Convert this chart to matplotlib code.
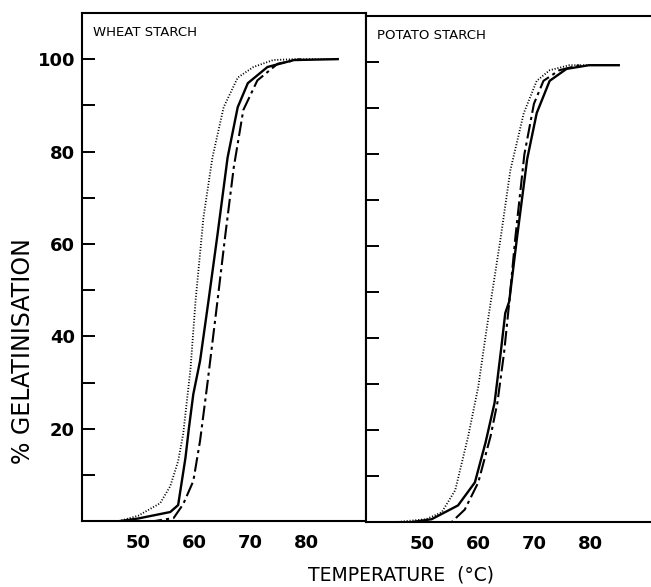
import matplotlib
matplotlib.use("Agg")
import matplotlib.pyplot as plt

plt.rcParams['font.family'] = ['DejaVu Sans']

# ---- data ----
panel_titles = ["WHEAT STARCH", "POTATO STARCH"]
x_ticks = [50, 60, 70, 80]
y_ticks_major = [20, 40, 60, 80, 100]
y_ticks_minor = [10, 30, 50, 70, 90]

wheat_dotted_x = [46.5, 50.0, 53.9, 55.7, 57.1, 58.0, 59.3, 60.2, 61.6, 63.2, 65.2, 67.7, 70.5, 74.0, 78.0, 85.5]
wheat_dotted_y = [0.0, 1.2, 3.9, 7.6, 13.0, 18.9, 33.0, 47.7, 65.7, 78.7, 89.6, 96.0, 98.3, 99.8, 100.0, 100.0]
wheat_solid_x = [46.5, 50.0, 55.7, 57.1, 58.4, 59.0, 59.8, 61.0, 62.5, 64.1, 65.9, 67.7, 69.5, 73.0, 77.7, 85.5]
wheat_solid_y = [0.0, 0.6, 2.0, 3.5, 13.7, 20.0, 27.5, 34.7, 47.7, 62.0, 78.7, 89.6, 94.8, 98.3, 99.8, 100.0]
wheat_dashdot_x = [47.0, 52.7, 56.3, 58.0, 59.8, 61.0, 62.3, 64.1, 65.5, 67.0, 68.7, 71.2, 74.8, 78.9]
wheat_dashdot_y = [0.0, 0.0, 0.7, 3.7, 8.7, 17.4, 29.7, 47.7, 62.0, 76.6, 89.0, 95.4, 99.0, 100.0]

potato_dotted_x = [44.7, 50.7, 53.5, 55.9, 58.2, 60.0, 61.3, 62.2, 64.0, 65.7, 68.1, 70.4, 72.7, 76.2, 85.0]
potato_dotted_y = [0.0, 0.7, 2.2, 7.0, 18.7, 29.5, 40.5, 47.8, 62.0, 76.5, 89.0, 96.0, 98.3, 99.4, 99.4]
potato_solid_x = [47.7, 51.7, 56.4, 59.4, 61.3, 62.9, 64.0, 64.8, 65.5, 66.9, 68.7, 70.4, 72.7, 75.7, 79.7, 85.0]
potato_solid_y = [0.0, 0.7, 3.7, 8.7, 17.4, 26.0, 37.0, 45.5, 48.0, 62.0, 79.0, 89.0, 96.0, 98.6, 99.4, 99.4]
potato_dashdot_x = [51.7, 55.2, 57.6, 60.0, 62.2, 63.4, 64.6, 65.5, 66.6, 68.2, 69.9, 71.6, 74.4, 78.0]
potato_dashdot_y = [0.0, 0.0, 2.8, 8.7, 18.8, 26.0, 37.0, 47.7, 62.0, 80.0, 91.0, 96.0, 98.3, 99.4]

series = [
    [(wheat_dotted_x, wheat_dotted_y, 'dotted'),
     (wheat_solid_x, wheat_solid_y, 'solid'),
     (wheat_dashdot_x, wheat_dashdot_y, 'dashdot')],
    [(potato_dotted_x, potato_dotted_y, 'dotted'),
     (potato_solid_x, potato_solid_y, 'solid'),
     (potato_dashdot_x, potato_dashdot_y, 'dashdot')],
]

fig = plt.figure(figsize=(6.51, 5.87), dpi=100)
ax1 = fig.add_axes([0.126, 0.112, 0.436, 0.866])
ax2 = fig.add_axes([0.562, 0.110, 0.436, 0.862], sharey=ax1)

for i, ax in enumerate([ax1, ax2]):
    for xs, ys, st in series[i]:
        if st == 'dotted':
            ax.plot(xs, ys, color='black', lw=1.3, ls=(0, (0.6, 1.0)))
        elif st == 'solid':
            ax.plot(xs, ys, color='black', lw=1.7, ls='-')
        else:
            ax.plot(xs, ys, color='black', lw=1.5, ls=(0, (7, 2.0, 1.5, 2.0)))
    ax.set_xlim(40, 90.5)
    ax.set_ylim(0, 110)
    ax.set_xticks(x_ticks)
    ax.set_xticklabels([str(v) for v in x_ticks], fontsize=13, fontweight='bold')
    ax.tick_params(axis='x', length=0, pad=9)
    ax.set_yticks(y_ticks_major)
    ax.set_yticks(y_ticks_minor, minor=True)
    ax.tick_params(axis='y', which='both', direction='in', length=9, width=1.4)
    for s in ax.spines.values():
        s.set_linewidth(1.5)
    ax.text(0.04, 0.975, panel_titles[i], transform=ax.transAxes, ha='left', va='top',
            fontsize=9.5)

ax1.set_yticklabels([str(v) for v in y_ticks_major], fontsize=13, fontweight='bold')
ax1.tick_params(axis='y', pad=5)
ax2.tick_params(axis='y', labelleft=False)
ax2.spines['right'].set_visible(False)

fig.text(0.036, 0.402, "% GELATINISATION", rotation=90, ha='center', va='center', fontsize=17)
fig.text(0.616, 0.005, "TEMPERATURE  (°C)", ha='center', va='bottom', fontsize=13.5)

fig.savefig("out.png", dpi=100)
